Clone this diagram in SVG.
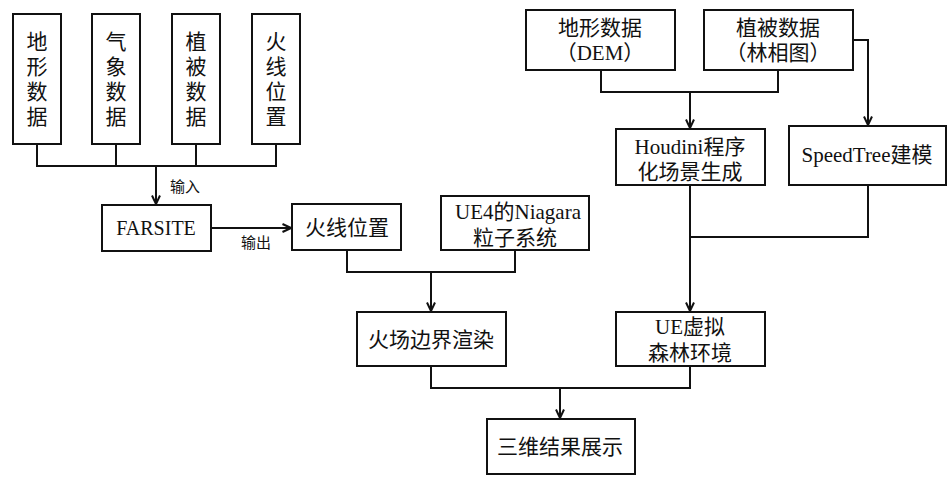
<svg xmlns="http://www.w3.org/2000/svg" width="951" height="480" viewBox="0 0 951 480">
<style>
.box{fill:#fff;stroke:#111;stroke-width:2}
.ln{fill:none;stroke:#111;stroke-width:2}
text{font-family:"Liberation Serif","Noto Sans CJK SC",serif;font-size:21px;fill:#111;text-anchor:middle}
.cn{font-family:"Noto Sans CJK SC",sans-serif}
.vt{font-family:"Noto Sans CJK SC",sans-serif;writing-mode:vertical-rl;letter-spacing:4px}
.lbl{font-family:"Noto Sans CJK SC",sans-serif;font-size:15px}
</style>
<defs>
<marker id="arr" viewBox="0 0 10 10" refX="9.5" refY="5" markerWidth="10" markerHeight="10" markerUnits="userSpaceOnUse" orient="auto">
<path d="M1,1 L9.5,5 L1,9" fill="none" stroke="#111" stroke-width="2"/>
</marker>
</defs>
<rect width="951" height="480" fill="#fff"/>
<g id="connectors">
<path class="ln" d="M37,144 V166 M116,144 V166 M196,144 V166 M276,144 V166 M36,166 H277"/>
<path class="ln" d="M156,166 V204" marker-end="url(#arr)"/>
<text class="lbl" x="185" y="192">输入</text>
<path class="ln" d="M211,228 H291" marker-end="url(#arr)"/>
<text class="lbl" x="256" y="248">输出</text>
<path class="ln" d="M347,250 V272 H515 V250"/>
<path class="ln" d="M431,272 V311" marker-end="url(#arr)"/>
<path class="ln" d="M601,70 V92 H778 V70"/>
<path class="ln" d="M690,92 V128" marker-end="url(#arr)"/>
<path class="ln" d="M853,40 H868 V125" marker-end="url(#arr)"/>
<path class="ln" d="M690,185 V311" marker-end="url(#arr)"/>
<path class="ln" d="M868,185 V237 H690"/>
<path class="ln" d="M431,366 V388 H690 V366"/>
<path class="ln" d="M560,388 V418" marker-end="url(#arr)"/>
</g>
<g id="n-terrain">
<rect class="box" x="13" y="14" width="48" height="130"/>
<text class="vt" x="37" y="81">地形数据</text>
</g>
<g id="n-weather">
<rect class="box" x="92" y="14" width="48" height="130"/>
<text class="vt" x="116" y="81">气象数据</text>
</g>
<g id="n-veg">
<rect class="box" x="172" y="14" width="48" height="130"/>
<text class="vt" x="196" y="81">植被数据</text>
</g>
<g id="n-fireline">
<rect class="box" x="252" y="14" width="48" height="130"/>
<text class="vt" x="276" y="81">火线位置</text>
</g>
<g id="n-farsite">
<rect class="box" x="102" y="205" width="109" height="46"/>
<text x="156" y="235" style="font-size:20px">FARSITE</text>
</g>
<g id="n-fireline2">
<rect class="box" x="292" y="204" width="109" height="46"/>
<text class="cn" x="347" y="235">火线位置</text>
</g>
<g id="n-niagara">
<rect class="box" x="441" y="196" width="148" height="54"/>
<text><tspan x="518" y="219">UE4的Niagara</tspan><tspan x="515" y="245">粒子系统</tspan></text>
</g>
<g id="n-render">
<rect class="box" x="357" y="312" width="149" height="54"/>
<text class="cn" x="431" y="347">火场边界渲染</text>
</g>
<g id="n-dem">
<rect class="box" x="526" y="10" width="149" height="60"/>
<text><tspan x="600" y="35">地形数据</tspan><tspan x="600" y="60">（DEM）</tspan></text>
</g>
<g id="n-forest">
<rect class="box" x="704" y="10" width="149" height="60"/>
<text><tspan x="778" y="35">植被数据</tspan><tspan x="778" y="60">（林相图）</tspan></text>
</g>
<g id="n-houdini">
<rect class="box" x="616" y="129" width="149" height="56"/>
<text><tspan x="690" y="154">Houdini程序</tspan><tspan x="690" y="179">化场景生成</tspan></text>
</g>
<g id="n-speedtree">
<rect class="box" x="789" y="126" width="157" height="59"/>
<text x="867" y="162">SpeedTree建模</text>
</g>
<g id="n-ue">
<rect class="box" x="616" y="312" width="149" height="54"/>
<text><tspan x="690" y="334">UE虚拟</tspan><tspan x="690" y="360">森林环境</tspan></text>
</g>
<g id="n-result">
<rect class="box" x="487" y="419" width="148" height="55"/>
<text class="cn" x="560" y="454">三维结果展示</text>
</g>
</svg>
